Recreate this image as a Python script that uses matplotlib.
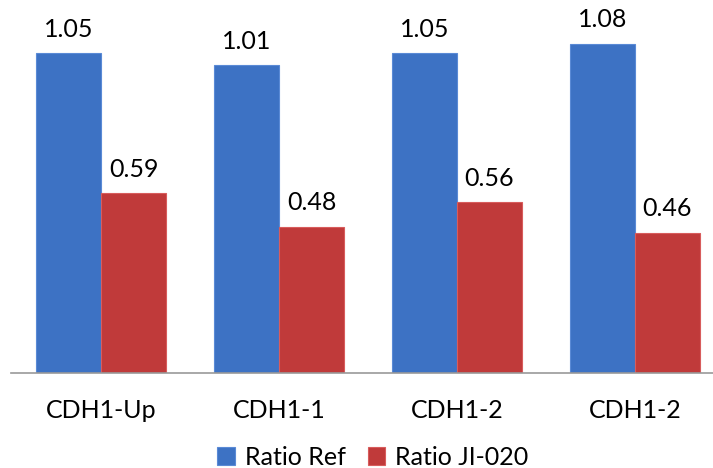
import numpy as np
import matplotlib.pyplot as plt

# data
categories = ['CDH1-Up', 'CDH1-1', 'CDH1-2', 'CDH1-2']
ratio_ref = [1.05, 1.01, 1.05, 1.08]
ratio_ji = [0.59, 0.48, 0.56, 0.46]
series_names = ['Ratio Ref', 'Ratio JI-020']

plt.rcParams['font.family'] = ['Lato', 'DejaVu Sans']

fig = plt.figure(figsize=(7.13, 4.68), dpi=100)
ax = fig.add_axes([0.015, 0.203, 0.985, 0.797])

x = np.arange(len(categories))
w = 0.365
b1 = ax.bar(x - w / 2, ratio_ref, w, color='#3d72c4', edgecolor='#5a8ad6',
            linewidth=0.8, label=series_names[0])
b2 = ax.bar(x + w / 2, ratio_ji, w, color='#c03a3a', edgecolor='#d85c5c',
            linewidth=0.8, label=series_names[1])

for bars, vals in ((b1, ratio_ref), (b2, ratio_ji)):
    for r, v in zip(bars, vals):
        ax.annotate('%.2f' % v, (r.get_x() + r.get_width() / 2, v),
                    xytext=(0, 9), textcoords='offset points',
                    ha='center', va='bottom', fontsize=18)

ax.set_xlim(-0.51, 3.44)
ax.set_ylim(0, 1.224)
ax.set_xticks(x)
ax.set_xticklabels(categories, fontsize=18)
ax.tick_params(axis='x', length=0, pad=19)
ax.set_yticks([])
for s in ('top', 'right', 'left'):
    ax.spines[s].set_visible(False)
ax.spines['bottom'].set_color('#999999')
ax.spines['bottom'].set_linewidth(1.2)

fig.legend(loc='center', bbox_to_anchor=(0.523, 0.023), ncol=2, frameon=False,
           fontsize=18, handlelength=0.7, handleheight=0.7, handletextpad=0.4,
           columnspacing=0.9)

fig.savefig('out.png', dpi=100)
